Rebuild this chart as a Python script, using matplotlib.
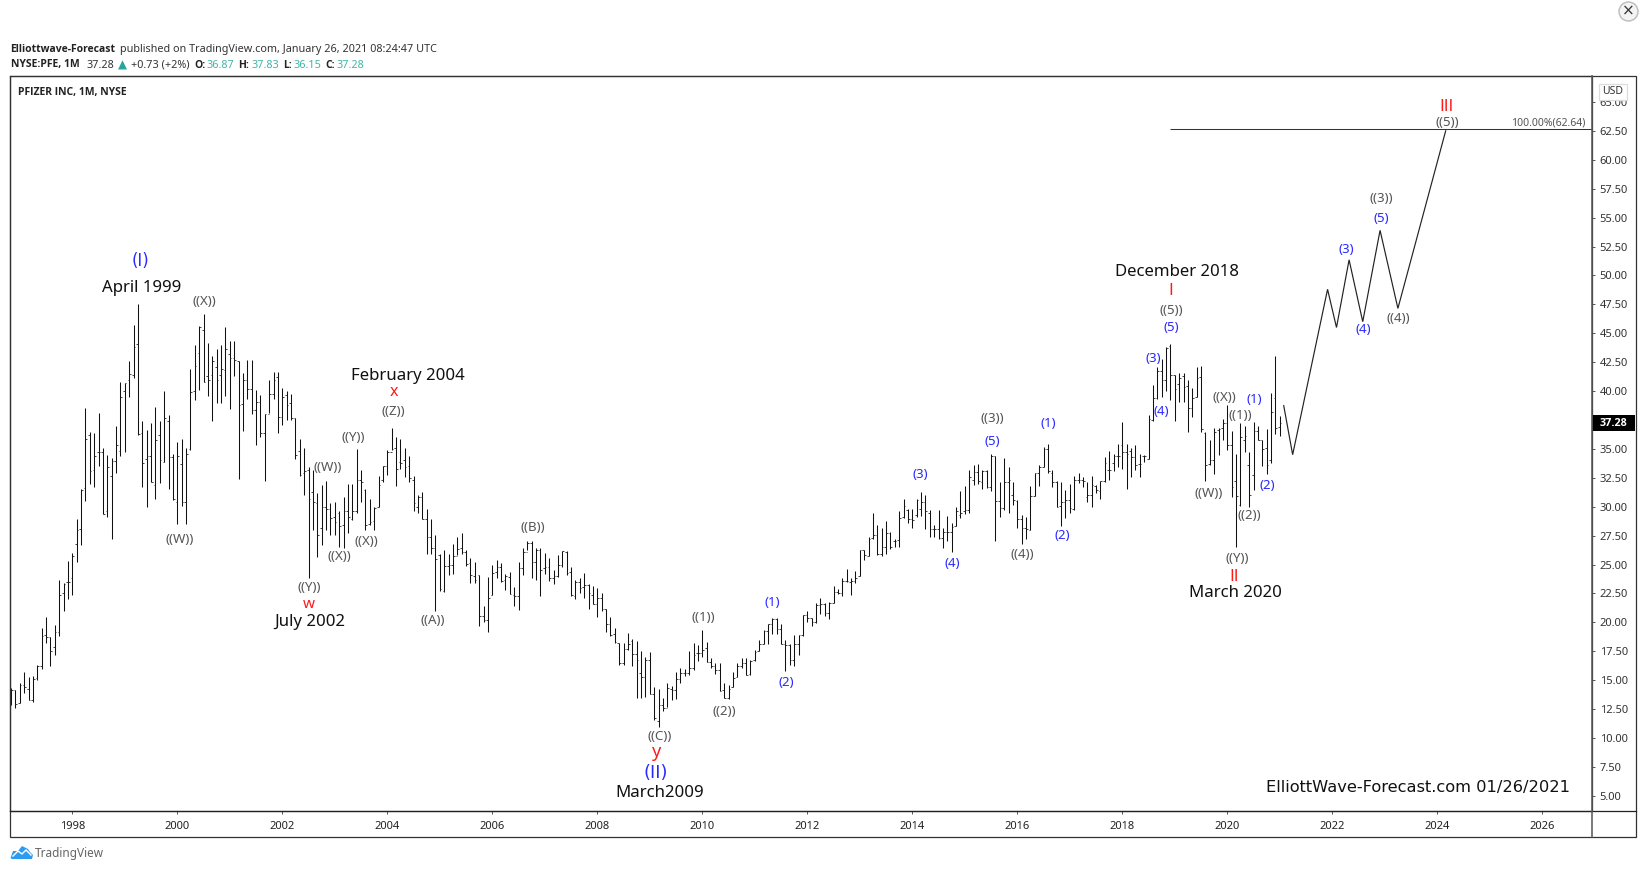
import matplotlib
matplotlib.use("Agg")
import matplotlib.pyplot as plt
from matplotlib.patches import Rectangle, Circle, Polygon
from matplotlib.lines import Line2D
import numpy as np

highs = [
 14.3, 14.15,
 14.8, 15.75, 15.25, 15.4, 16.3, 19.5, 20.45, 18.7, 19.8, 23.65, 23.4, 25.3,
 26.0, 28.95, 31.5, 38.5, 36.5, 36.35, 38.1, 35.05, 34.5, 34.2, 37.0, 40.75,
 40.7, 42.6, 45.7, 47.5, 37.4, 36.65, 37.2, 38.6, 37.45, 40.05, 37.9, 34.55,
 35.6, 35.9, 35.05, 41.95, 44.0, 45.6, 46.65, 44.2, 43.0, 43.6, 44.0, 45.5,
 44.35, 44.35, 42.6, 41.6, 42.7, 42.7, 40.1, 39.65, 38.05, 40.95, 41.65, 41.65,
 40.25, 40.0, 39.75, 37.65, 35.85, 35.05, 33.4, 33.2, 31.15, 31.9, 32.25, 30.35,
 30.45, 29.6, 30.8, 32.0, 32.0, 35.0, 33.2, 31.5, 30.7, 29.95, 32.7, 33.55,
 34.9, 36.85, 36.0, 35.9, 35.05, 34.4, 32.7, 31.0, 31.3, 29.8, 28.9, 27.55,
 25.9, 26.25, 25.9, 26.8, 27.4, 27.7, 26.25, 25.6, 25.25, 24.1, 21.4, 23.9,
 25.0, 25.4, 25.15, 24.2, 24.35, 23.1, 25.25, 26.4, 27.0, 27.05, 26.4, 26.4,
 26.0, 25.55, 24.5, 25.85, 26.2, 26.2, 24.75, 23.65, 23.85, 24.3, 23.3, 23.15,
 22.95, 22.5, 21.2, 20.45, 19.5, 18.25, 18.2, 19.05, 18.55, 18.4, 17.5, 17.05,
 17.45, 14.45, 14.2, 13.45, 14.75, 14.5, 15.75, 16.1, 15.95, 17.5, 18.2, 18.05,
 19.35, 18.3, 16.9, 16.45, 16.45, 14.8, 14.6, 15.75, 16.5, 16.9, 16.95, 16.75,
 17.6, 18.45, 19.35, 19.9, 20.35, 20.35, 19.85, 18.45, 18.15, 18.9, 18.95, 20.65,
 21.0, 20.35, 21.65, 22.1, 21.7, 21.8, 23.15, 22.85, 23.8, 24.65, 23.8, 24.45,
 26.3, 26.25, 27.35, 29.5, 28.45, 28.2, 28.8, 27.85, 27.25, 29.65, 30.7, 29.8,
 29.8, 30.65, 31.25, 31.05, 29.7, 28.45, 29.7, 28.15, 29.2, 28.6, 29.95, 31.35,
 31.8, 33.15, 33.6, 33.7, 33.15, 33.15, 34.55, 34.4, 32.15, 34.2, 33.4, 32.1,
 30.6, 29.3, 29.1, 31.8, 32.9, 33.6, 35.2, 35.4, 33.15, 32.25, 32.1, 31.45,
 31.95, 32.65, 32.95, 32.6, 32.1, 32.7, 31.9, 32.2, 34.3, 34.85, 34.6, 35.4,
 37.35, 35.4, 35.1, 35.35, 34.6, 34.5, 37.9, 40.55, 42.1, 42.75, 43.85, 44.05,
 41.4, 41.55, 41.55, 41.0, 40.25, 42.05, 42.2, 36.5, 35.8, 36.8, 36.8, 37.6,
 38.8, 36.55, 34.55, 37.2, 37.0, 34.7, 37.35, 36.95, 35.8, 36.75, 39.8, 43.05,
 37.83]

lows = [
 12.9, 12.58,
 13.0, 13.9, 13.3, 13.1, 15.0, 15.95, 18.2, 16.2, 17.15, 18.85, 21.0, 22.0,
 22.4, 25.2, 26.65, 30.5, 32.0, 31.75, 33.5, 29.35, 29.1, 27.2, 32.9, 34.35,
 34.7, 39.5, 41.1, 36.2, 31.75, 30.0, 32.1, 30.65, 32.05, 33.85, 31.55, 30.6,
 28.5, 30.05, 28.5, 34.9, 39.25, 40.1, 40.75, 39.6, 37.4, 38.95, 38.95, 39.6,
 38.45, 41.3, 32.4, 36.55, 39.35, 38.0, 35.3, 36.05, 32.25, 38.1, 39.3, 36.35,
 37.1, 37.5, 37.5, 34.1, 32.65, 31.0, 23.8, 27.95, 25.65, 26.7, 27.95, 27.55,
 27.55, 26.5, 26.4, 27.75, 28.85, 29.45, 30.45, 27.95, 28.45, 28.0, 29.95, 32.1,
 32.75, 34.9, 31.8, 33.3, 32.55, 32.1, 29.6, 29.45, 28.9, 25.9, 25.95, 20.95,
 22.75, 22.65, 24.1, 24.2, 25.85, 25.95, 24.9, 23.45, 23.4, 19.65, 20.05, 19.2,
 22.35, 23.8, 23.5, 22.8, 22.45, 21.4, 21.05, 24.1, 26.25, 23.8, 23.7, 22.3,
 24.2, 23.6, 23.3, 23.95, 24.8, 24.1, 22.3, 22.0, 22.55, 22.15, 21.15, 21.55,
 20.45, 20.95, 19.15, 18.85, 18.2, 16.3, 16.3, 17.6, 16.25, 13.5, 13.5, 13.55,
 13.8, 11.6, 10.98, 12.3, 12.7, 13.25, 13.4, 14.8, 15.4, 15.45, 15.9, 16.7,
 17.05, 16.6, 16.05, 15.55, 14.05, 13.45, 13.35, 14.4, 15.25, 16.05, 15.45, 15.45,
 16.7, 17.5, 18.1, 18.15, 19.0, 19.0, 18.1, 15.8, 16.3, 16.2, 17.2, 18.85,
 20.05, 19.7, 19.95, 20.7, 20.55, 20.3, 21.65, 22.45, 22.3, 23.5, 22.35, 23.45,
 24.0, 25.4, 25.75, 27.2, 25.8, 25.7, 25.95, 26.35, 26.55, 26.55, 29.0, 28.6,
 28.15, 29.1, 29.2, 28.1, 27.35, 27.4, 27.2, 26.45, 27.0, 26.05, 28.3, 29.05,
 29.4, 29.45, 31.9, 32.0, 31.5, 31.6, 31.4, 27.0, 29.1, 29.7, 29.45, 30.15,
 28.15, 26.8, 27.2, 27.95, 30.95, 31.8, 33.4, 32.95, 31.75, 29.95, 28.35, 29.0,
 29.5, 29.7, 32.05, 31.75, 30.4, 30.0, 31.15, 30.65, 32.15, 32.3, 33.05, 33.4,
 33.3, 31.5, 32.55, 33.2, 32.6, 33.9, 34.1, 37.45, 39.3, 39.5, 40.05, 39.25,
 37.45, 39.05, 39.1, 36.45, 37.8, 39.5, 36.5, 32.2, 33.6, 32.8, 34.5, 35.8,
 34.9, 30.85, 26.5, 30.1, 34.75, 30.0, 31.45, 35.75, 33.5, 32.8, 33.75, 36.25,
 36.15]

opens = [
 13.5, 14.15,
 13.0, 14.6, 14.2, 13.3, 15.2, 16.25, 18.9, 18.7, 17.85, 19.15, 22.5, 23.5,
 23.8, 26.75, 28.1, 31.6, 36.2, 33.2, 34.7, 34.7, 29.6, 32.7, 33.95, 34.8,
 40.05, 41.0, 41.4, 44.1, 36.35, 34.1, 34.35, 31.9, 36.2, 33.85, 37.45, 34.3,
 30.45, 33.7, 30.45, 34.95, 40.05, 43.3, 45.3, 41.3, 41.4, 42.1, 41.4, 41.85,
 43.2, 42.85, 42.6, 38.9, 41.0, 40.2, 38.4, 39.1, 36.4, 38.0, 39.75, 41.25,
 37.8, 39.7, 38.95, 37.65, 34.8, 32.95, 33.2, 31.3, 30.35, 28.2, 30.0, 29.8,
 29.15, 29.5, 28.45, 29.6, 28.9, 29.6, 32.35, 31.45, 28.55, 28.75, 29.95, 32.3,
 33.55, 34.75, 35.05, 33.85, 34.05, 33.55, 32.35, 30.0, 30.85, 28.95, 27.4, 26.4,
 25.85, 22.75, 24.9, 24.95, 25.75, 26.4, 26.05, 25.1, 24.05, 24.1, 20.55, 20.2,
 22.35, 24.4, 24.8, 23.65, 23.95, 22.35, 22.25, 24.7, 26.1, 26.85, 25.25, 26.25,
 24.7, 24.8, 23.8, 24.0, 25.0, 26.1, 24.4, 22.3, 23.5, 23.1, 23.2, 22.35,
 21.55, 22.1, 21.15, 19.85, 19.0, 18.25, 16.45, 17.7, 18.35, 17.3, 15.6, 15.3,
 16.75, 13.8, 11.5, 12.9, 12.6, 14.25, 14.15, 15.1, 15.6, 15.65, 16.05, 17.35,
 17.35, 17.75, 16.6, 16.25, 15.9, 14.15, 13.5, 14.4, 15.3, 16.25, 16.45, 15.5,
 16.75, 17.5, 18.15, 19.25, 19.9, 20.3, 19.4, 18.15, 18.05, 16.75, 18.15, 18.95,
 20.65, 20.35, 20.0, 21.5, 21.55, 20.8, 21.65, 22.65, 22.5, 23.6, 23.5, 23.6,
 24.0, 26.25, 25.75, 27.3, 27.55, 25.9, 26.5, 27.7, 27.0, 27.1, 29.1, 29.7,
 28.9, 29.3, 29.8, 30.45, 29.5, 28.05, 28.05, 27.3, 27.85, 27.8, 28.3, 29.3,
 29.6, 29.7, 32.3, 33.0, 32.1, 33.05, 31.7, 34.4, 30.5, 29.85, 32.15, 31.0,
 30.5, 28.9, 28.2, 28.0, 30.9, 32.9, 33.4, 34.95, 32.95, 32.1, 30.05, 30.45,
 30.6, 29.8, 32.35, 32.3, 30.85, 31.0, 31.8, 31.35, 32.2, 33.2, 33.8, 34.4,
 35.35, 34.75, 34.85, 34.3, 33.7, 34.35, 34.1, 37.5, 39.4, 41.75, 40.95, 43.9,
 41.4, 40.65, 41.3, 40.4, 38.5, 39.45, 41.2, 36.4, 33.7, 34.05, 36.65, 36.8,
 37.2, 35.35, 32.2, 30.15, 35.75, 33.6, 32.75, 36.55, 35.75, 35.05, 34.05, 39.4,
 36.87]

closes = [
 14.15, 12.95,
 14.6, 14.4, 13.3, 15.1, 16.25, 18.8, 18.7, 17.5, 19.15, 22.4, 23.3, 23.5,
 25.75, 28.0, 31.45, 35.9, 33.05, 34.35, 34.7, 29.35, 33.45, 33.95, 35.35, 39.45,
 40.7, 41.5, 43.85, 36.25, 33.75, 34.35, 32.1, 35.8, 34.05, 37.65, 34.3, 30.7,
 34.35, 30.45, 34.6, 39.95, 42.2, 45.5, 40.8, 41.0, 42.6, 41.0, 41.95, 43.6,
 42.85, 42.65, 38.8, 41.0, 40.2, 38.4, 39.1, 36.35, 38.0, 39.75, 41.0, 37.8,
 39.45, 38.8, 37.65, 34.5, 32.75, 33.05, 30.65, 30.45, 27.55, 30.0, 29.8, 29.0,
 28.7, 28.3, 29.6, 29.15, 29.6, 32.35, 32.15, 28.45, 28.7, 29.9, 31.9, 33.55,
 34.75, 35.0, 33.3, 33.8, 33.45, 32.45, 30.3, 30.85, 28.95, 27.4, 26.4, 25.45,
 22.85, 24.9, 24.95, 25.75, 26.35, 26.05, 25.05, 24.1, 23.65, 20.55, 20.2, 22.1,
 24.3, 24.8, 23.6, 24.0, 22.45, 22.25, 24.7, 26.05, 26.9, 25.25, 26.25, 24.55,
 24.8, 23.8, 24.0, 24.95, 26.15, 24.25, 22.35, 23.5, 23.0, 23.2, 22.5, 21.55,
 22.15, 21.15, 19.85, 18.9, 18.3, 16.45, 17.7, 18.15, 17.3, 16.75, 15.3, 16.75,
 13.8, 11.7, 12.9, 12.6, 14.3, 14.15, 15.1, 15.6, 15.65, 16.05, 17.2, 17.35,
 17.6, 16.6, 16.25, 15.9, 14.05, 13.5, 14.25, 15.2, 16.25, 16.45, 15.45, 16.7,
 17.4, 18.15, 19.25, 19.85, 20.3, 19.4, 18.15, 18.05, 16.75, 18.15, 18.95, 20.6,
 20.35, 20.0, 21.5, 21.55, 20.8, 21.65, 22.65, 22.5, 23.6, 23.6, 23.6, 23.8,
 26.25, 25.8, 27.25, 27.55, 25.9, 26.5, 27.7, 26.55, 27.0, 29.0, 30.1, 28.9,
 28.85, 30.55, 30.45, 29.6, 28.05, 28.05, 27.3, 27.85, 27.8, 28.25, 29.6, 29.5,
 29.7, 32.55, 33.0, 32.2, 33.05, 31.75, 34.35, 30.5, 29.85, 32.15, 32.35, 30.6,
 28.9, 28.15, 28.05, 30.9, 32.9, 33.4, 34.95, 33.05, 32.1, 30.0, 30.45, 30.6,
 29.9, 32.35, 32.3, 32.2, 31.0, 31.9, 31.45, 32.2, 33.8, 33.2, 34.35, 34.4,
 34.75, 34.6, 34.3, 33.6, 33.7, 34.35, 37.55, 39.4, 41.75, 40.95, 43.7, 41.4,
 40.2, 41.1, 40.35, 38.5, 39.4, 41.1, 36.75, 33.6, 34.05, 36.5, 36.7, 37.25,
 35.3, 31.75, 30.95, 36.05, 36.1, 31.0, 36.55, 35.8, 34.95, 33.6, 38.2, 36.8,
 37.28]

forecast_year = [2021.075, 2021.245, 2021.91, 2022.08, 2022.32, 2022.58, 2022.91, 2023.25, 2024.16]
forecast_price = [38.74, 34.5, 48.8, 45.5, 51.35, 46.0, 53.9, 47.15, 62.5]
fib_start_year, fib_level = 2018.9, 62.64
last_price = 37.28
price_ticks = [5 + 2.5 * i for i in range(25)]
year_ticks = list(range(1998, 2028, 2))

assert len(highs) == len(lows) == len(opens) == len(closes) == 291

W, H = 1644, 888
fig = plt.figure(figsize=(W / 100, H / 100), dpi=100, facecolor="white")
FONT = "Noto Sans"
BOLD = "Open Sans"
BAR = "DejaVu Sans"
plt.rcParams["font.family"] = FONT

AX_L, AX_R, AX_T, AX_B = 10.0, 1592.0, 76.5, 811.0
ax = fig.add_axes([AX_L / W, 1 - AX_B / H, (AX_R - AX_L) / W, (AX_B - AX_T) / H])
ax.set_xlim(1996.813, 2026.947)
ax.set_ylim(3.694, 67.2)
for s in ax.spines.values():
    s.set_color("#333333"); s.set_linewidth(0.9)

x = 1996 + (10 + np.arange(len(highs))) / 12.0
dx = 0.032
ax.vlines(x, lows, highs, color="#111111", lw=0.75)
ax.hlines(opens, x - dx, x, color="#222222", lw=0.6)
ax.hlines(closes, x, x + dx, color="#222222", lw=0.6)
ax.plot(forecast_year, forecast_price, color="#222222", lw=0.85, solid_joinstyle="miter")
ax.hlines(fib_level, fib_start_year, 2026.947, color="#333333", lw=0.75)

ax.yaxis.tick_right()
ax.set_yticks(price_ticks)
ax.set_yticklabels([f"{p:.2f}" for p in price_ticks], fontsize=8, color="#333333", family=FONT)
ax.set_xticks(year_ticks)
ax.set_xticklabels([str(y) for y in year_ticks], fontsize=8, color="#222222", family=FONT)
ax.tick_params(axis="both", length=2.5, width=0.7, color="#555555", pad=3)
ax.tick_params(axis="x", pad=5)


def px(text, xp, yp, **kw):
    kw.setdefault("ha", "center"); kw.setdefault("va", "center")
    kw.setdefault("family", FONT)
    return fig.text(xp / W, 1 - yp / H, text, **kw)


S = 1644 / 1568
BLUE, RED, GREY, BLACK = "#2a2aff", "#ff1a1a", "#555555", "#111111"
SM, BIG = 9.6, 12.1
labels = [
 ("(I)", 134, 248.5, BLUE, 12), ("April 1999", 135, 274.5, BLACK, BIG), ("((X))", 195, 288, GREY, SM),
 ("February 2004", 389, 358.5, BLACK, BIG), ("x", 376, 374, RED, 11.5), ("((Z))", 375, 392.5, GREY, SM),
 ("((Y))", 337, 417.5, GREY, SM), ("((W))", 313, 445.5, GREY, SM), ("((W))", 171, 515, GREY, SM),
 ("((X))", 324, 531, GREY, SM), ("((X))", 349, 516.5, GREY, SM), ("((Y))", 295, 560.5, GREY, SM),
 ("w", 295, 577, RED, 11), ("July 2002", 295, 593.5, BLACK, BIG), ("((A))", 413, 591.5, GREY, SM),
 ("((B))", 508, 503.5, GREY, SM), ("((1))", 671, 588.5, GREY, SM), ("(1)", 737, 574.5, BLUE, SM),
 ("(2)", 750, 650.5, BLUE, SM), ("((2))", 691, 679, GREY, SM), ("((C))", 629, 702.5, GREY, SM),
 ("y", 626, 717, RED, 13), ("(II)", 625, 737.5, BLUE, 13), ("March2009", 629, 756.5, BLACK, BIG),
 ("(3)", 878, 452.5, BLUE, SM), ("(4)", 908, 537.5, BLUE, SM), ("((3))", 946, 399.5, GREY, SM),
 ("(5)", 946, 421.5, BLUE, SM), ("((4))", 975, 528.5, GREY, SM), ("(1)", 1000, 404, BLUE, SM),
 ("(2)", 1013, 511, BLUE, SM), ("December 2018", 1123, 259, BLACK, BIG), ("I", 1117, 277, RED, 11.5),
 ("((5))", 1117, 296, GREY, SM), ("(5)", 1117, 312.5, BLUE, SM), ("(3)", 1100, 341.5, BLUE, SM),
 ("(4)", 1108, 392.5, BLUE, SM), ("((X))", 1168, 379.5, GREY, SM), ("((W))", 1153, 470.5, GREY, SM),
 ("((1))", 1183, 396.5, GREY, SM), ("(1)", 1196, 381.5, BLUE, SM), ("((2))", 1192, 491.5, GREY, SM),
 ("(2)", 1209, 463.5, BLUE, SM), ("((Y))", 1180, 532.5, GREY, SM), ("II", 1177, 550, RED, 11.5),
 ("March 2020", 1178, 566, BLACK, BIG), ("(3)", 1284, 237.5, BLUE, SM), ("(5)", 1317, 208.5, BLUE, SM),
 ("((3))", 1317, 189.5, GREY, SM), ("(4)", 1300, 314.5, BLUE, SM), ("((4))", 1334, 303.5, GREY, SM),
 ("III", 1380, 102, RED, 11.5), ("((5))", 1380, 116.5, GREY, SM),
]
ROMAN = {"I", "II", "III", "(I)", "(II)"}
for t, vx, vy, c, fs in labels:
    px(t, vx * S, vy * S, color=c, fontsize=fs, family=BAR if t in ROMAN else FONT)

px("ElliottWave-Forecast.com 01/26/2021", 1417.5, 787.5, color=BLACK, fontsize=11.7, family="DejaVu Sans")
px("100.00%(62.64)", 1585, 123, ha="right", color=GREY, fontsize=7.5)

# header
HEAD, HEADB = 7.8, 7.45
Y1, Y2 = 49.8, 65
px("Elliottwave-Forecast", 10.5, Y1, ha="left", color="#222222", fontsize=HEADB, fontweight="bold", family=BOLD)
px("published on TradingView.com, January 26, 2021 08:24:47 UTC", 120, Y1, ha="left", color="#333333", fontsize=HEAD)
px("NYSE:PFE, 1M", 10.5, Y2, ha="left", color="#222222", fontsize=HEADB, fontweight="bold", family=BOLD)
px("37.28", 86.6, Y2, ha="left", color="#333333", fontsize=HEAD)
px("\u25b2", 122, Y2 - 0.3, color="#26a69a", fontsize=8.5, family="DejaVu Sans")
px("+0.73 (+2%)", 130.5, Y2, ha="left", color="#333333", fontsize=HEAD)
TEAL = "#3fb5a7"
for lab, xl, val, xv in [("O:", 194, "36.87", 206.6), ("H:", 238.5, "37.83", 251),
                         ("L:", 283.4, "36.15", 293), ("C:", 325.5, "37.28", 336.7)]:
    px(lab, xl, Y2, ha="left", color="#222222", fontsize=HEADB, fontweight="bold", family=BOLD)
    px(val, xv, Y2, ha="left", color=TEAL, fontsize=HEAD)
px("PFIZER INC, 1M, NYSE", 18.2, 92.3, ha="left", color="#222222", fontsize=HEADB, fontweight="bold", family=BOLD)
px("TradingView", 35, 853.5, ha="left", color="#666666", fontsize=8.5)

# outer frame
fig.add_artist(Rectangle((AX_L / W, 1 - 837 / H), (1635.5 - AX_L) / W, (837 - AX_T) / H, fill=False,
                         edgecolor="#333333", lw=0.9, transform=fig.transFigure))
fig.add_artist(Line2D([AX_L / W, 1635.5 / W], [1 - AX_B / H] * 2, color="#222222", lw=0.9))
fig.add_artist(Line2D([AX_R / W] * 2, [1 - AX_T / H, 1 - 837 / H], color="#555555", lw=1.1))

# price tag
fig.add_artist(Rectangle((1592.5 / W, 1 - 431 / H), 42 / W, 16.5 / H, facecolor="black", edgecolor="none",
                         transform=fig.transFigure, zorder=5))
px(f"{last_price:.2f}", 1613.5, 423.2, color="white", fontsize=7.8, fontweight="bold", family=BOLD, zorder=6)

# USD box
fig.add_artist(Rectangle((1599 / W, 1 - 100 / H), 28 / W, 16 / H, facecolor="white", edgecolor="#dddddd",
                         lw=0.9, transform=fig.transFigure, zorder=5))
px("USD", 1613, 91.5, color="#333333", fontsize=7.5, zorder=6)

# close button
cx, cy = 1628.5, 11.5
fig.add_artist(Circle((cx, H - cy), 9.5, transform=None, facecolor="#f3f3f3", edgecolor="#bbbbbb", lw=1))
px("\u00d7", cx, cy - 0.5, color="#333333", fontsize=11, family="DejaVu Sans", zorder=6)

# TradingView logo
logo = Polygon([(10.5, H - 858), (13, H - 851), (18, H - 851), (22, H - 846), (28, H - 849), (30, H - 852),
                (33, H - 855), (32, H - 859), (12, H - 859)],
               closed=True, transform=None, facecolor="#2d9cf0", edgecolor="none")
fig.add_artist(logo)
fig.add_artist(Line2D(np.array([13, 18, 22, 26, 31]), H - np.array([856, 851, 854, 850, 855]),
                      color="white", lw=1, transform=None))

fig.savefig("out.png", dpi=100, facecolor="white")
